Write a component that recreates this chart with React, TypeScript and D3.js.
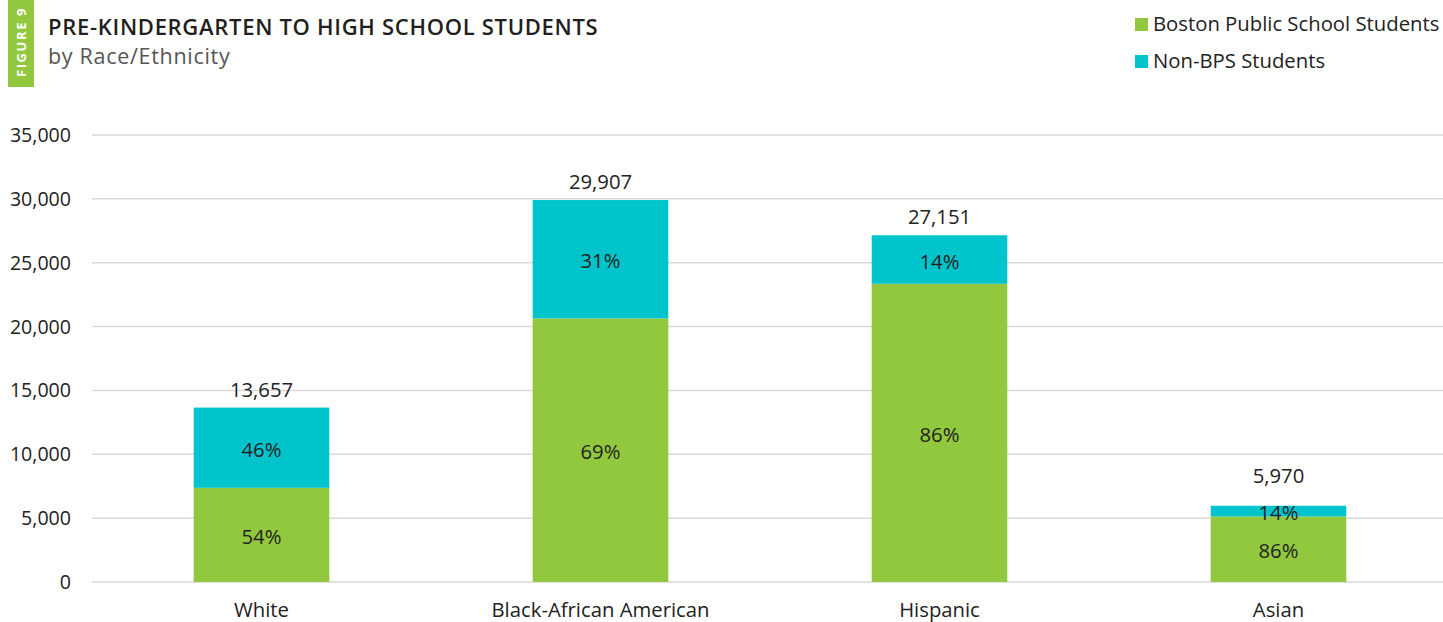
import React from "react";
import * as d3 from "d3";

const categories = ["White", "Black-African American", "Hispanic", "Asian"];
const bpsValues = [7375, 20636, 23350, 5134];
const nonBpsValues = [6282, 9271, 3801, 836];
const totals = [13657, 29907, 27151, 5970];
const bpsPctLabels = ["54%", "69%", "86%", "86%"];
const nonBpsPctLabels = ["46%", "31%", "14%", "14%"];
const yTicks = [0, 5000, 10000, 15000, 20000, 25000, 30000, 35000];
const seriesNames = ["Boston Public School Students", "Non-BPS Students"];

const W = 1443;
const H = 622;
const GREEN = "#92c83e";
const CYAN = "#00c4cc";
const FONT = "'Open Sans', 'Noto Sans', sans-serif";

export default function App() {
  const x = d3.scaleBand<string>().domain(categories).range([92, 1448]).paddingInner(0.6).paddingOuter(0.3);
  const y = d3.scaleLinear().domain([0, 35000]).range([582, 135]);
  const fmt = d3.format(",");
  const bw = x.bandwidth();

  return (
    <svg width={W} height={H} style={{ position: "absolute", left: 0, top: 0, background: "#fff" }} fontFamily={FONT}>
      {/* Figure tab */}
      <rect x={8} y={0} width={26} height={87} fill={GREEN} />
      <text transform="translate(26,42) rotate(-90)" textAnchor="middle" fontSize={13} fontWeight={700} fill="#fff" letterSpacing={1.6}>FIGURE 9</text>
      <text x={48} y={35} fontSize={22} fontWeight={600} fill="#231f20" letterSpacing={0.7}>PRE-KINDERGARTEN TO HIGH SCHOOL STUDENTS</text>
      <text x={48} y={64} fontSize={21.5} fill="#555" letterSpacing={0.7}>by Race/Ethnicity</text>

      {/* Legend */}
      {seriesNames.map((s, i) => (
        <g key={s} transform={`translate(1135, ${18 + i * 37})`}>
          <rect x={0} y={0} width={13} height={13} fill={i === 0 ? GREEN : CYAN} />
          <text x={18} y={13} fontSize={20.3} fill="#222">{s}</text>
        </g>
      ))}

      {/* Grid */}
      {yTicks.map((t) => (
        <g key={t}>
          <line x1={92} x2={W} y1={y(t)} y2={y(t)} stroke="#d9d9d9" strokeWidth={1.5} />
          <text x={71} y={y(t) + 7} textAnchor="end" fontSize={19.6} fill="#222">{fmt(t)}</text>
        </g>
      ))}

      {/* Bars */}
      {categories.map((c, i) => {
        const x0 = x(c)!;
        const cx = x0 + bw / 2;
        const yb = y(bpsValues[i]);
        const yt = y(bpsValues[i] + nonBpsValues[i]);
        const nonLabelY = (yt + yb) / 2 + 9;
        const totalY = Math.min(y(totals[i]) - 11, nonLabelY - 37);
        return (
          <g key={c}>
            <rect x={x0} y={yb} width={bw} height={y(0) - yb} fill={GREEN} />
            <rect x={x0} y={yt} width={bw} height={yb - yt} fill={CYAN} />
            <text x={cx} y={(yb + y(0)) / 2 + 9} textAnchor="middle" fontSize={20.3} fill="#222">{bpsPctLabels[i]}</text>
            <text x={cx} y={nonLabelY} textAnchor="middle" fontSize={20.3} fill="#222">{nonBpsPctLabels[i]}</text>
            <text x={cx} y={totalY} textAnchor="middle" fontSize={20.3} fill="#222">{fmt(totals[i])}</text>
            <text x={cx} y={617} textAnchor="middle" fontSize={20.3} fill="#222">{c}</text>
          </g>
        );
      })}
    </svg>
  );
}
